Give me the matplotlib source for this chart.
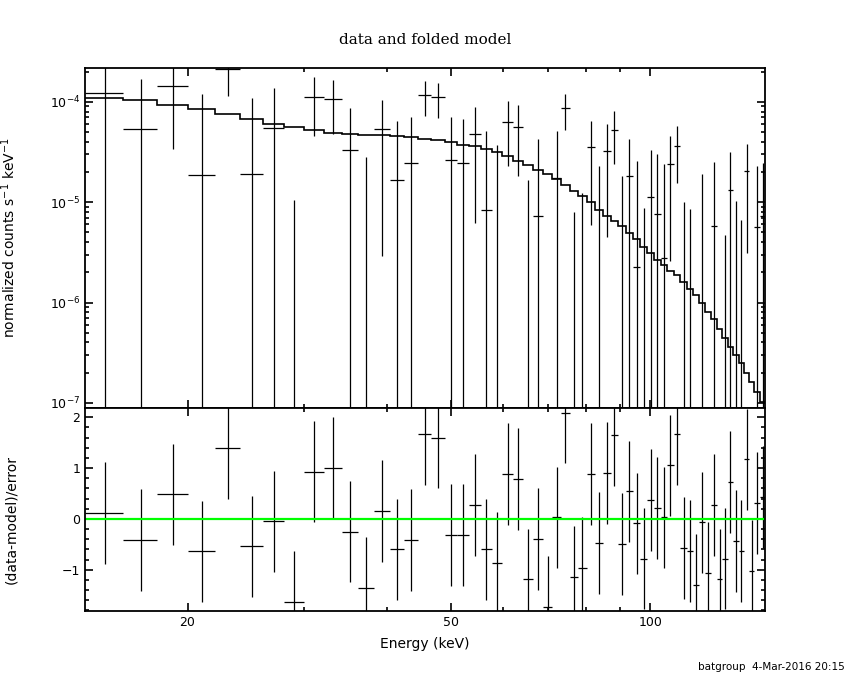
import numpy as np
import matplotlib
matplotlib.use("Agg")
import matplotlib.pyplot as plt
from matplotlib.ticker import FixedLocator, NullFormatter, LogLocator, MultipleLocator

# energy bin edges (keV), 59 channels
e_edges = [14.0, 16.0, 18.0, 20.0, 22.0, 24.0, 26.0, 28.0, 30.0, 32.1,
           34.2, 36.2, 38.3, 40.4, 42.5, 44.6, 46.7, 49.0, 51.1, 53.2,
           55.4, 57.7, 59.8, 62.0, 64.2, 66.4, 68.8, 71.1, 73.3, 75.5,
           77.8, 80.1, 82.5, 84.7, 87.1, 89.4, 91.8, 94.2, 96.5, 98.9,
           101.3, 103.6, 106.0, 108.5, 111.0, 113.5, 116.0, 118.4, 120.9, 123.4,
           126.0, 128.4, 130.9, 133.4, 136.0, 138.6, 141.1, 143.6, 146.3, 149.5]

# normalized counts s^-1 keV^-1 and 1-sigma errors
rate = [1.21e-4, 5.35e-5, 1.44e-4, 1.86e-5, 2.12e-4, 1.90e-5, 5.51e-5, -6.2e-5, 1.12e-4, 1.07e-4,
        3.30e-5, -2.47e-5, 5.39e-5, 1.66e-5, 2.43e-5, 1.17e-4, 1.12e-4, 2.62e-5, 2.45e-5, 4.77e-5,
        8.32e-6, -4.0e-6, 6.28e-5, 5.60e-5, -1.93e-5, 7.25e-6, -3.97e-5, 1.76e-5, 8.67e-5, -2.7e-5,
        -2.07e-5, 3.54e-5, -5.1e-6, 3.25e-5, 5.23e-5, -6.7e-6, 1.83e-5, 2.26e-6, -1.43e-5, 1.12e-5,
        7.59e-6, 2.76e-6, 2.41e-5, 3.65e-5, -9.6e-6, -1.08e-5, -2.35e-5, -3.3e-7, -1.88e-5, 5.80e-6,
        -2.14e-5, -1.43e-5, 1.32e-5, -7.4e-6, -1.05e-5, 2.05e-5, -1.73e-5, 5.63e-6, 7.35e-6]
rate_err = [1.30e-4, 1.165e-4, 1.10e-4, 1.01e-4, 9.9e-5, 9.0e-5, 8.2e-5, 7.25e-5, 6.6e-5, 5.9e-5,
            5.43e-5, 5.3e-5, 5.1e-5, 4.81e-5, 4.62e-5, 4.5e-5, 4.3e-5, 4.36e-5, 4.33e-5, 4.15e-5,
            4.32e-5, 4.13e-5, 4.0e-5, 3.76e-5, 3.6e-5, 3.56e-5, 3.4e-5, 3.39e-5, 3.4e-5, 3.5e-5,
            3.3e-5, 2.95e-5, 2.81e-5, 2.8e-5, 2.85e-5, 2.5e-5, 2.46e-5, 2.35e-5, 2.3e-5, 2.21e-5,
            2.23e-5, 2.15e-5, 2.15e-5, 2.1e-5, 1.97e-5, 1.93e-5, 1.9e-5, 1.96e-5, 1.85e-5, 1.94e-5,
            1.85e-5, 1.9e-5, 1.85e-5, 1.77e-5, 1.72e-5, 1.74e-5, 1.7e-5, 1.74e-5, 1.71e-5]

# folded model
model = [1.08e-4, 1.03e-4, 9.29e-5, 8.47e-5, 7.60e-5, 6.78e-5, 6.0e-5, 5.6e-5, 5.23e-5, 4.89e-5,
         4.73e-5, 4.66e-5, 4.62e-5, 4.52e-5, 4.41e-5, 4.29e-5, 4.16e-5, 3.97e-5, 3.73e-5, 3.59e-5,
         3.38e-5, 3.13e-5, 2.88e-5, 2.60e-5, 2.36e-5, 2.10e-5, 1.91e-5, 1.70e-5, 1.49e-5, 1.30e-5,
         1.16e-5, 1.0e-5, 8.38e-6, 7.35e-6, 6.55e-6, 5.75e-6, 4.97e-6, 4.30e-6, 3.61e-6, 3.10e-6,
         2.66e-6, 2.37e-6, 2.07e-6, 1.88e-6, 1.61e-6, 1.36e-6, 1.19e-6, 9.8e-7, 8.1e-7, 6.9e-7,
         5.5e-7, 4.4e-7, 3.6e-7, 3.0e-7, 2.5e-7, 2.0e-7, 1.6e-7, 1.28e-7, 1.03e-7]

# (data-model)/error
resid = [0.12, -0.42, 0.48, -0.64, 1.40, -0.54, -0.05, -1.63, 0.93, 1.01,
         -0.25, -1.35, 0.15, -0.60, -0.42, 1.67, 1.60, -0.31, -0.31, 0.28,
         -0.60, -0.86, 0.88, 0.79, -1.19, -0.40, -1.73, 0.03, 2.09, -1.14,
         -0.97, 0.88, -0.48, 0.90, 1.64, -0.50, 0.54, -0.09, -0.78, 0.37,
         0.22, 0.03, 1.05, 1.67, -0.57, -0.63, -1.30, -0.07, -1.06, 0.28,
         -1.19, -0.78, 0.72, -0.44, -0.63, 1.17, -1.03, 0.31, 0.43]

edges = np.array(e_edges)
e_mid = 0.5 * (edges[:-1] + edges[1:])
x_err = [e_mid - edges[:-1], edges[1:] - e_mid]

fig = plt.figure(figsize=(8.5, 6.8), dpi=100)
ax1 = fig.add_axes([0.1, 0.4, 0.8, 0.5])
ax2 = fig.add_axes([0.1, 0.1015, 0.8, 0.2985], sharex=ax1)

# top panel: data and folded model
ax1.set_xscale('log')
ax1.set_yscale('log', nonpositive='clip')
ax1.errorbar(e_mid, rate, xerr=x_err, yerr=rate_err, fmt='none',
             ecolor='black', elinewidth=0.9, capsize=0)
ax1.stairs(model, edges, color='black', linewidth=1.2, baseline=None)
ax1.set_xlim(14.0, 149.0)
ax1.set_ylim(8.9e-8, 2.17e-4)
ax1.set_ylabel('normalized counts s$^{-1}$ keV$^{-1}$', fontsize=10)
ax1.yaxis.set_label_coords(-0.098, 0.5)
ax1.yaxis.set_major_locator(LogLocator(base=10))
ax1.yaxis.set_minor_locator(LogLocator(base=10, subs=np.arange(2, 10)))
ax1.yaxis.set_minor_formatter(NullFormatter())

# bottom panel: residuals
ax2.errorbar(e_mid, resid, xerr=x_err, yerr=1.0, fmt='none',
             ecolor='black', elinewidth=0.9, capsize=0)
ax2.axhline(0.0, color='#00ff00', linewidth=1.6)
ax2.set_ylim(-1.81, 2.18)
ax2.set_ylabel('(data-model)/error', fontsize=10)
ax2.yaxis.set_label_coords(-0.098, 0.45)
ax2.set_xlabel('Energy (keV)', fontsize=10, labelpad=6)
ax2.yaxis.set_major_locator(FixedLocator([-1, 0, 1, 2]))
ax2.yaxis.set_minor_locator(MultipleLocator(0.2))

ax2.xaxis.set_major_locator(FixedLocator([20, 50, 100]))
ax2.xaxis.set_minor_locator(FixedLocator([30, 40, 60, 70, 80, 90]))
ax2.xaxis.set_major_formatter(plt.FuncFormatter(lambda v, p: '%d' % v))
ax2.xaxis.set_minor_formatter(NullFormatter())
ax1.tick_params(axis='x', which='both', labelbottom=False)

for ax in (ax1, ax2):
    for s in ax.spines.values():
        s.set_linewidth(1.3)
    ax.tick_params(which='both', direction='in', top=True, right=True,
                   labelsize=9, width=1.2)
    ax.tick_params(which='major', length=5.5)
    ax.tick_params(which='minor', length=3)

fig.text(0.5, 0.941, 'data and folded model', ha='center', va='center',
         fontsize=11, family='DejaVu Serif')
fig.text(0.994, 0.019, 'batgroup  4-Mar-2016 20:15', ha='right', va='center',
         fontsize=7.5)

plt.savefig('out.png', dpi=100)
